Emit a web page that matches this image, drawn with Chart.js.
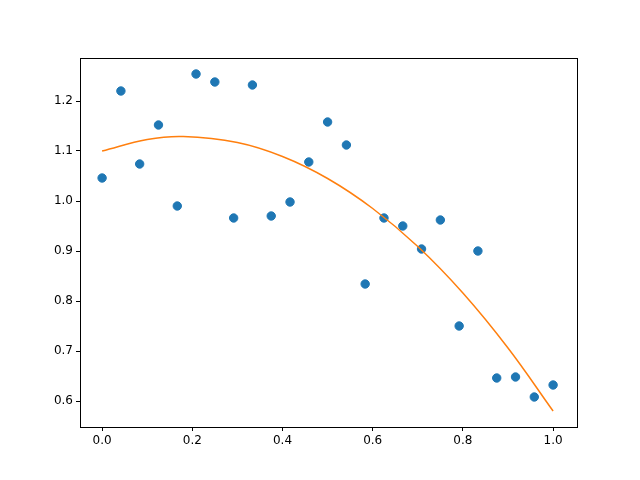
<!DOCTYPE html>
<html>
<head>
<script src="https://cdn.jsdelivr.net/npm/chart.js@4"></script>
<style>body{margin:0;background:#fff}</style>
</head>
<body>
<canvas id="c" width="640" height="480"></canvas>
<script>
// points du nuage
const xValues = [0, 0.0417, 0.0833, 0.125, 0.1667, 0.2083, 0.25, 0.2917, 0.3333, 0.375, 0.4167, 0.4583, 0.5,
  0.5417, 0.5833, 0.625, 0.6667, 0.7083, 0.75, 0.7917, 0.8333, 0.875, 0.9167, 0.9583, 1.0];
const yValues = [1.046, 1.22, 1.074, 1.152, 0.99, 1.254, 1.238, 0.966, 1.232, 0.97, 0.998, 1.078, 1.158,
  1.112, 0.834, 0.966, 0.95, 0.904, 0.962, 0.75, 0.9, 0.646, 0.648, 0.608, 0.632];
// courbe ajustée
const fitX = [0, 0.1, 0.18, 0.3, 0.4, 0.5, 0.6, 0.7, 0.8, 0.9, 1.0];
const fitY = [1.10, 1.123, 1.129, 1.117, 1.089, 1.045, 0.985, 0.909, 0.816, 0.706, 0.58];
const xTicks = [0.0, 0.2, 0.4, 0.6, 0.8, 1.0];
const yTicks = [0.6, 0.7, 0.8, 0.9, 1.0, 1.1, 1.2];

const frame = {
  id: 'frame',
  afterDraw(chart) {
    const a = chart.chartArea, ctx = chart.ctx;
    ctx.save();
    ctx.strokeStyle = '#000';
    ctx.lineWidth = 1;
    ctx.strokeRect(a.left + 0.5, a.top + 0.5, a.right - a.left, a.bottom - a.top);
    ctx.restore();
  }
};

const tickFont = { family: 'DejaVu Sans', size: 12 };
new Chart(document.getElementById('c'), {
  type: 'scatter',
  data: {
    datasets: [{
      data: xValues.map((x, i) => ({ x: x, y: yValues[i] })),
      backgroundColor: '#1f77b4',
      borderColor: '#1f77b4',
      pointRadius: 4.2,
      order: 2
    }, {
      type: 'line',
      data: fitX.map((x, i) => ({ x: x, y: fitY[i] })),
      borderColor: '#ff7f0e',
      borderWidth: 1.5,
      pointRadius: 0,
      tension: 0.4,
      fill: false,
      order: 1
    }]
  },
  options: {
    responsive: false,
    animation: false,
    layout: { padding: { top: 58, right: 63, left: 0, bottom: 0 } },
    plugins: { legend: { display: false }, tooltip: { enabled: false } },
    scales: {
      x: {
        type: 'linear', min: -0.049, max: 1.053,
        afterBuildTicks: s => { s.ticks = xTicks.map(v => ({ value: v })); },
        afterFit: s => { s.height = 53; },
        grid: { drawOnChartArea: false, color: '#000', tickLength: 4 },
        border: { color: '#000' },
        ticks: { color: '#000', font: tickFont, callback: v => v.toFixed(1), maxRotation: 0 }
      },
      y: {
        min: 0.548, max: 1.286,
        afterBuildTicks: s => { s.ticks = yTicks.map(v => ({ value: v })); },
        afterFit: s => { s.width = 80; },
        grid: { drawOnChartArea: false, color: '#000', tickLength: 4 },
        border: { color: '#000' },
        ticks: { color: '#000', font: tickFont, callback: v => v.toFixed(1) }
      }
    }
  },
  plugins: [frame]
});
</script>
</body>
</html>
